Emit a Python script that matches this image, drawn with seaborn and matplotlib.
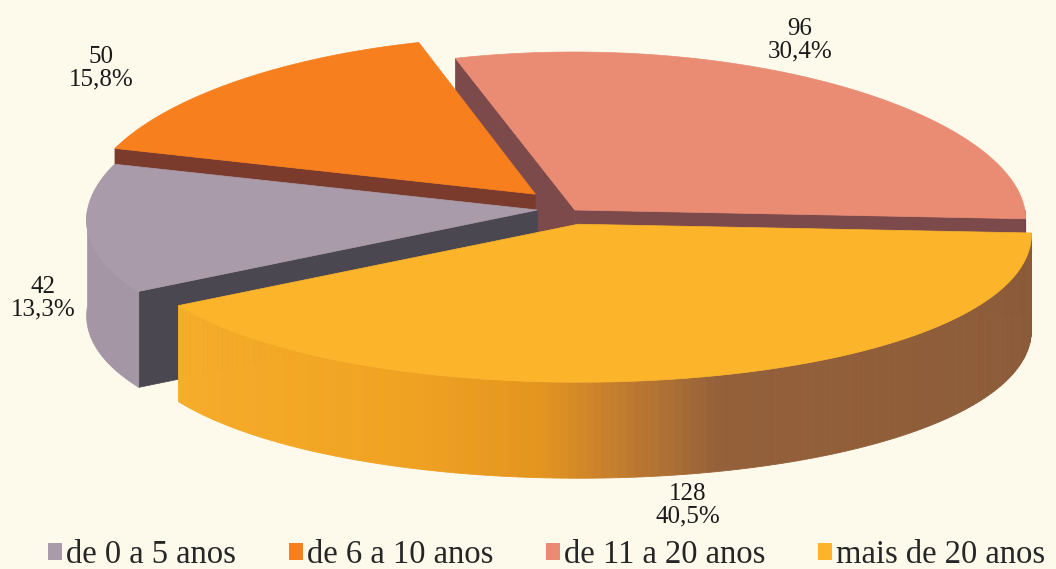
import numpy as np
import matplotlib
matplotlib.use('Agg')
import matplotlib.pyplot as plt
from matplotlib.patches import Polygon, Patch
from matplotlib.colors import LinearSegmentedColormap
import seaborn as sns

# dados do gráfico
categories = ['de 0 a 5 anos', 'de 6 a 10 anos', 'de 11 a 20 anos', 'mais de 20 anos']
counts = [42, 50, 96, 128]

# cores (topo, faces de corte, parede externa)
top_colors = sns.color_palette(['#a99ba9', '#f77f1e', '#ea8b73', '#fcb52b'])
cut_colors = ['#4b4751', '#7b3b2c', '#7d4a4b', '#8a5a3a']
wall_colors = ['#a596a5', '#c8621a', '#7b4350', None]
yellow_wall = LinearSegmentedColormap.from_list(
    'wall', [(0.0, '#f6ad2a'), (0.25, '#f0a322'), (0.37, '#e3951f'),
             (0.44, '#c07a30'), (0.52, '#93603a'), (1.0, '#8a5a38')])

bg = '#fdfaec'
sns.set_theme(style='white', rc={'figure.facecolor': bg, 'axes.facecolor': bg})
plt.rcParams['font.family'] = 'serif'
plt.rcParams['font.serif'] = ['Liberation Serif', 'DejaVu Serif']

# geometria em pixels (y para baixo), deslocamentos no disco unitário
cx0, cy0 = 560, 210
rx, ry, depth = 450, 158, 96
persp = 0.06
start = 211
offsets = [(-0.05, 0.0), (-0.055, 0.10), (0.033, 0.0), (0.04, -0.09)]
label_xy = [(43, 298), (101, 68), (800, 40), (688, 505)]


def pt(off, a, dz=0):
    r = np.radians(a)
    X = off[0] + np.cos(r)
    Z = off[1] + np.sin(r)
    f = 1 / (1 + persp * Z)
    return (cx0 + rx * X * f, cy0 - ry * Z + dz)


def center(off, dz=0):
    f = 1 / (1 + persp * off[1])
    return (cx0 + rx * off[0] * f, cy0 - ry * off[1] + dz)


def arc(off, a0, a1, dz=0, n=80):
    return [pt(off, a, dz) for a in np.linspace(a0, a1, n)]


fig = plt.figure(figsize=(10.56, 5.69), dpi=100)
ax = fig.add_axes([0, 0, 1, 1])
ax.set_xlim(0, 1056)
ax.set_ylim(569, 0)
ax.axis('off')

total = sum(counts)
sizes = [v / total * 360 for v in counts]
slices = []
hi = start
for s in sizes:
    lo = hi - s
    slices.append((lo, hi))
    hi = lo

for i in [2, 1, 0, 3]:
    lo, hi = slices[i]
    off = offsets[i]
    c, cb = center(off), center(off, depth)
    # faces de corte visíveis
    for a, vis in [(lo, np.cos(np.radians(lo)) > 0), (hi, np.cos(np.radians(hi)) < 0)]:
        if vis:
            ax.add_patch(Polygon([c, pt(off, a), pt(off, a, depth), cb], closed=True,
                                 fc=cut_colors[i], ec=cut_colors[i], lw=0.5))
    # parede externa (parte frontal)
    for w0, w1 in [(-180, 0), (180, 360)]:
        a0, a1 = max(lo, w0), min(hi, w1)
        if a1 <= a0:
            continue
        if wall_colors[i] is not None:
            poly = arc(off, a0, a1) + arc(off, a0, a1, depth)[::-1]
            ax.add_patch(Polygon(poly, closed=True, fc=wall_colors[i],
                                 ec=wall_colors[i], lw=0.5))
        else:
            edges = np.linspace(a0, a1, 150)
            for k in range(len(edges) - 1):
                col = yellow_wall((edges[k] - a0) / (a1 - a0))
                poly = arc(off, edges[k], edges[k + 1], n=3) + \
                    arc(off, edges[k], edges[k + 1], depth, n=3)[::-1]
                ax.add_patch(Polygon(poly, closed=True, fc=col, ec=col, lw=0.6))
    # topo
    ax.add_patch(Polygon([c] + arc(off, lo, hi, n=200), closed=True,
                         fc=top_colors[i], ec=top_colors[i], lw=0.5))

# rótulos: valor e percentagem
for i, v in enumerate(counts):
    pct = f'{v / total * 100:.1f}'.replace('.', ',')
    ax.text(label_xy[i][0], label_xy[i][1], f'{v}\n{pct}%', ha='center', va='center',
            fontsize=18, linespacing=1.05, color='#1a1a1a')

handles = [Patch(facecolor=top_colors[i], edgecolor='none') for i in range(len(categories))]
fig.legend(handles, categories, loc='center left', bbox_to_anchor=(48 / 1056, 1 - 555 / 569),
           ncol=4, frameon=False, fontsize=23.5, handlelength=0.43, handleheight=0.43,
           handletextpad=0.12, columnspacing=1.62, borderpad=0, borderaxespad=0)

plt.savefig('out.png', dpi=100, facecolor=bg)
